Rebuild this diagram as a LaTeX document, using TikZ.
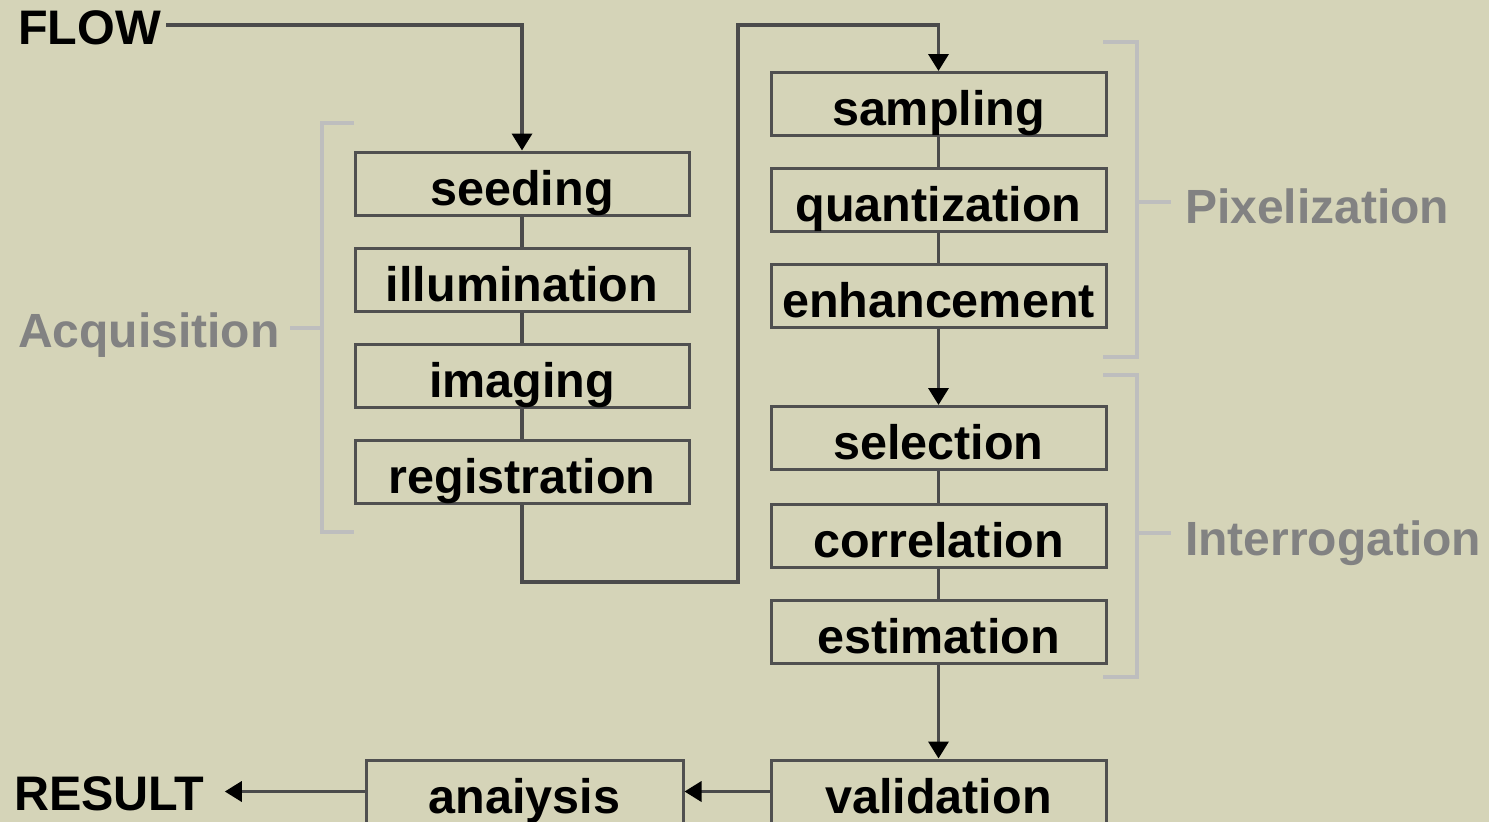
\documentclass[tikz,border=0pt]{standalone}
\usepackage{fontspec}
\setmainfont{Liberation Sans}
\usetikzlibrary{arrows.meta}
\definecolor{bg}{RGB}{213,212,184}
\definecolor{boxline}{RGB}{80,80,80}
\definecolor{conline}{RGB}{75,75,75}
\definecolor{brack}{RGB}{190,190,190}
\definecolor{labgray}{RGB}{130,130,130}
\tikzset{
  stepbox/.style={draw=boxline, line width=3pt, minimum height=63pt, inner sep=0pt,
    text height=43pt, text depth=0pt, font=\fontsize{48.5}{52}\selectfont\bfseries, text=black},
  leftbox/.style={stepbox, minimum width=334pt},
  rightbox/.style={stepbox, minimum width=335pt},
  conn/.style={draw=conline, line width=3.5pt},
  arr/.style={conn, -{Triangle[width=20pt,length=17pt,color=black]}},
  brk/.style={draw=brack, line width=4pt},
  endlabel/.style={inner sep=0pt, anchor=base west, font=\fontsize{48.5}{52}\selectfont\bfseries, text=black},
  grouplabel/.style={inner sep=0pt, anchor=base west, font=\fontsize{48}{52}\selectfont\bfseries, text=labgray}
}
\begin{document}
\begin{tikzpicture}[x=1pt,y=-1pt]
\fill[bg] (0,0) rectangle (1489,822);
\useasboundingbox (0,0) rectangle (1489,822);

% labels
\node[endlabel] (flow) at (18,44) {FLOW};
\node[endlabel] (result) at (14,810) {RESULT};
\node[grouplabel] (acq) at (18,347) {Acquisition};
\node[grouplabel] (pix) at (1185,223) {Pixelization};
\node[grouplabel] (intr) at (1185,555) {Interrogation};

% left column
\node[leftbox] (seed) at (522,183.5) {seeding};
\node[leftbox] (illum) at (522,279.5) {illumination};
\node[leftbox] (imag) at (522,375.5) {imaging};
\node[leftbox] (regi) at (522,471.5) {registration};

% right column
\node[rightbox] (samp) at (938.5,104) {sampling};
\node[rightbox] (quan) at (938.5,199.5) {quantization};
\node[rightbox] (enha) at (938.5,295.5) {enhancement};
\node[rightbox] (sele) at (938.5,438) {selection};
\node[rightbox] (corr) at (938.5,536) {correlation};
\node[rightbox] (esti) at (938.5,631.5) {estimation};
\node[rightbox] (vali) at (938.5,791.5) {validation};
\node[stepbox, minimum width=317pt] (anal) at (524.5,791.5) {anaiysis};

% coordinates
\coordinate (f1) at (166,25);
\coordinate (f2) at (522,25);
\coordinate (r1) at (738,582);
\coordinate (r2) at (938.5,25);

% connectors
\draw[arr] (f1) -- (f2) -- (seed.north);
\draw[conn] (seed.south) -- (illum.north);
\draw[conn] (illum.south) -- (imag.north);
\draw[conn] (imag.south) -- (regi.north);
\draw[arr] (regi.south) |- (r1) |- (r2) -- (samp.north);
\draw[conn] (samp.south) -- (quan.north);
\draw[conn] (quan.south) -- (enha.north);
\draw[arr] (enha.south) -- (sele.north);
\draw[conn] (sele.south) -- (corr.north);
\draw[conn] (corr.south) -- (esti.north);
\draw[arr] (esti.south) -- (vali.north);
\draw[arr] (vali.west) -- (anal.east);
\draw[arr, shorten >=20pt] (anal.west) -- (result.east |- anal.west);

% brackets
\coordinate (a1) at (354,123);
\coordinate (a2) at (354,532);
\coordinate (am) at (290,328);
\draw[brk] (a1) -- (322,123) -- (322,532) -- (a2);
\draw[brk] (am) -- (322,328);

\coordinate (p1) at (1103,42);
\coordinate (p2) at (1103,357);
\coordinate (pm) at (1171,202);
\draw[brk] (p1) -- (1137,42) -- (1137,357) -- (p2);
\draw[brk] (1137,202) -- (pm);

\coordinate (i1) at (1103,375);
\coordinate (i2) at (1103,677);
\coordinate (im) at (1171,533);
\draw[brk] (i1) -- (1137,375) -- (1137,677) -- (i2);
\draw[brk] (1137,533) -- (im);
\end{tikzpicture}
\end{document}
